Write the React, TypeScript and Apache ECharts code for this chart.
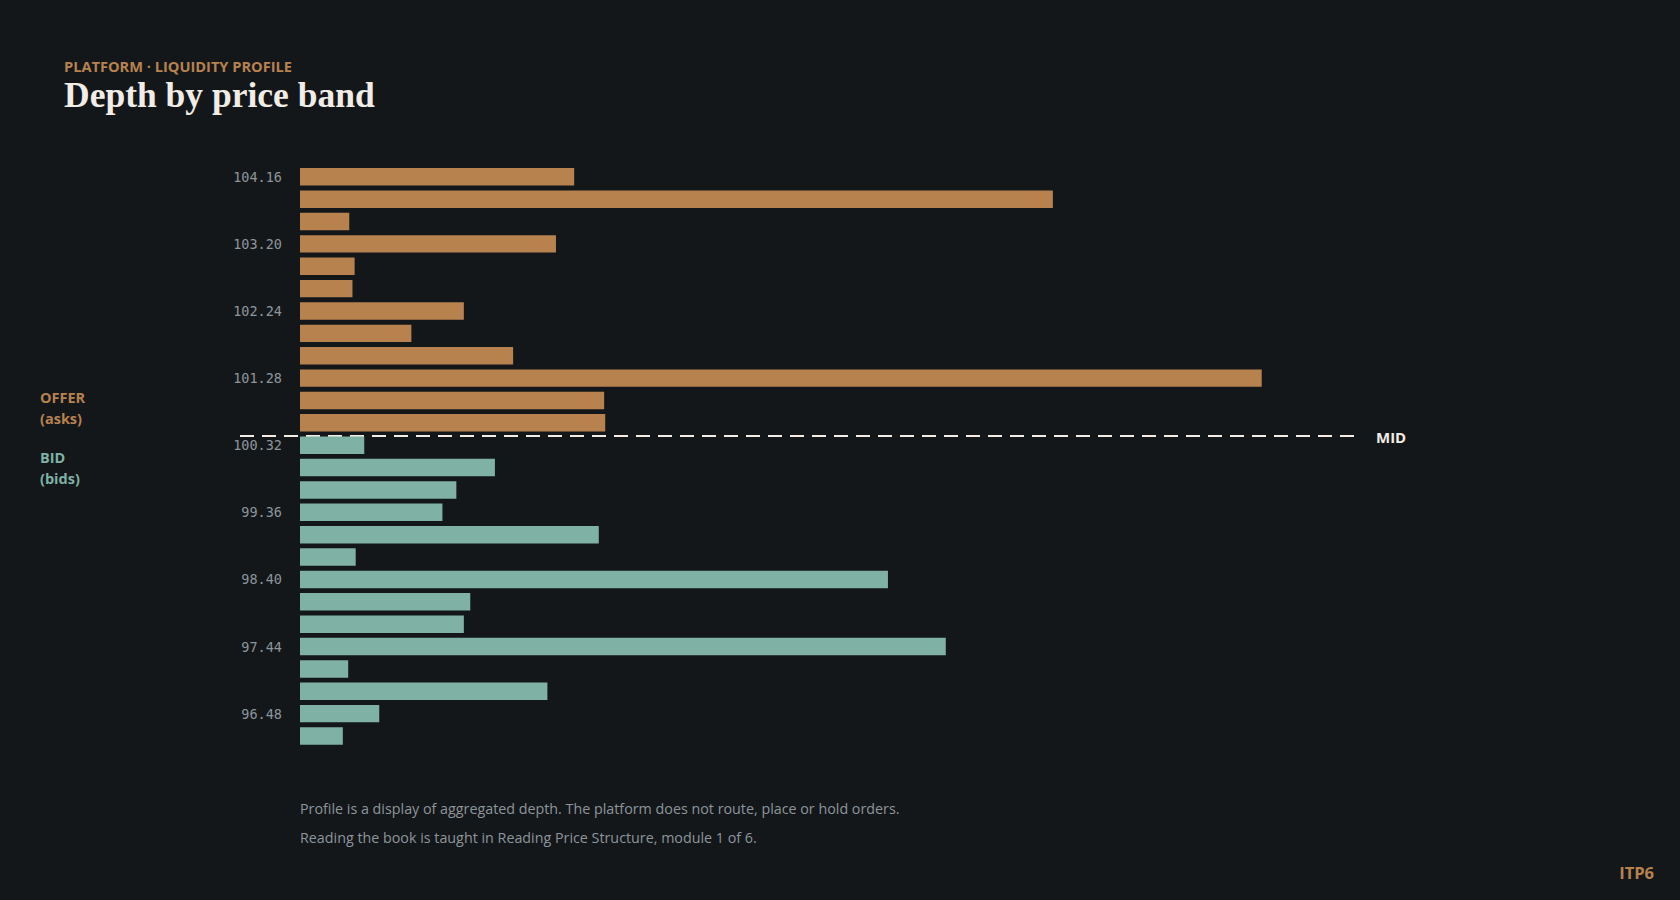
import React, { useEffect, useRef } from "react";
import * as echarts from "echarts";

// price bands, top (highest ask) to bottom (lowest bid)
const offerPrices = ["104.16", "103.84", "103.52", "103.20", "102.88", "102.56", "102.24", "101.92", "101.60", "101.28", "100.96", "100.64"];
const bidPrices = ["100.32", "100.00", "99.68", "99.36", "99.04", "98.72", "98.40", "98.08", "97.76", "97.44", "97.12", "96.80", "96.48", "96.16"];

// resting depth per band
const offerDepth = [1280, 3515, 230, 1195, 255, 245, 765, 520, 995, 4490, 1420, 1425];
const bidDepth = [300, 910, 730, 665, 1395, 260, 2745, 795, 765, 3015, 225, 1155, 370, 200];

const BG = "#13171a";
const OFFER = "#b8824f";
const BID = "#7fb1a4";
const INK = "#f1ede6";
const MUTED = "#8e959a";
const SANS = "'Open Sans', 'Noto Sans', sans-serif";

const GRID_LEFT = 300;
const GRID_RIGHT = 325;

export default function App() {
	const chartRef = useRef<HTMLDivElement>(null);

	useEffect(() => {
		if (!chartRef.current) return;
		document.body.style.margin = "0";
		document.body.style.background = BG;
		const chart = echarts.init(chartRef.current, undefined, { renderer: "svg" });

		const prices = [...offerPrices, ...bidPrices];
		const offerData = [...offerDepth, ...bidDepth.map(() => "-")];
		const bidData = [...offerDepth.map(() => "-"), ...bidDepth];

		chart.setOption({
			animation: false,
			backgroundColor: BG,
			grid: { left: GRID_LEFT, right: GRID_RIGHT, top: 165.6, bottom: 152.8 },
			xAxis: {
				type: "value",
				show: false,
				min: 0,
				max: (v: { max: number }) => v.max * 1.097,
				splitLine: { show: false },
			},
			yAxis: {
				type: "category",
				inverse: true,
				data: prices,
				axisLine: { show: false },
				axisTick: { show: false },
				axisLabel: {
					interval: 2,
					margin: 18,
					color: MUTED,
					fontFamily: "'DejaVu Sans Mono', monospace",
					fontSize: 13.5,
				},
			},
			series: [
				{
					name: "Offer",
					type: "bar",
					stack: "book",
					data: offerData,
					barCategoryGap: "22%",
					itemStyle: { color: OFFER },
				},
				{
					name: "Bid",
					type: "bar",
					stack: "book",
					data: bidData,
					barCategoryGap: "22%",
					itemStyle: { color: BID },
				},
			],
		});

		// mid line sits between the lowest ask and the highest bid
		const yAsk = chart.convertToPixel({ yAxisIndex: 0 }, offerPrices[offerPrices.length - 1]) as number;
		const yBid = chart.convertToPixel({ yAxisIndex: 0 }, bidPrices[0]) as number;
		const midY = (yAsk + yBid) / 2 + 2;
		const gridEnd = 1680 - GRID_RIGHT;

		const label = (text: string, x: number, y: number, fill: string, size: number, weight = "bold", align = "left") => ({
			type: "text",
			style: { text, x, y, fill, fontFamily: SANS, fontSize: size, fontWeight: weight, align, verticalAlign: "middle" },
		});

		chart.setOption({
			graphic: [
				label("PLATFORM · LIQUIDITY PROFILE", 64, 66, OFFER, 14.6),
				{
					type: "text",
					style: {
						text: "Depth by price band",
						x: 64,
						y: 95,
						fill: INK,
						fontFamily: "Georgia, 'Liberation Serif', serif",
						fontSize: 35.5,
						fontWeight: "bold",
						verticalAlign: "middle",
					},
				},
				{
					type: "line",
					shape: { x1: GRID_LEFT - 60, y1: midY, x2: gridEnd, y2: midY },
					style: { stroke: INK, lineWidth: 2, lineDash: [14, 8] },
				},
				label("MID", gridEnd + 21, midY + 1, INK, 15),
				label("OFFER", 40, midY - 39, OFFER, 14.5),
				label("(asks)", 40, midY - 18, OFFER, 14.5),
				label("BID", 40, midY + 21, BID, 14.5),
				label("(bids)", 40, midY + 42, BID, 14.5),
				label("Profile is a display of aggregated depth. The platform does not route, place or hold orders.", 300, 808, MUTED, 14.3, "normal"),
				label("Reading the book is taught in Reading Price Structure, module 1 of 6.", 300, 837, MUTED, 14.3, "normal"),
				label("ITP6", 1654, 872, OFFER, 16.5, "bold", "right"),
			],
		});

		const onResize = () => chart.resize();
		window.addEventListener("resize", onResize);
		return () => {
			window.removeEventListener("resize", onResize);
			chart.dispose();
		};
	}, []);

	return <div ref={chartRef} style={{ width: "100vw", height: "100vh" }} />;
}
